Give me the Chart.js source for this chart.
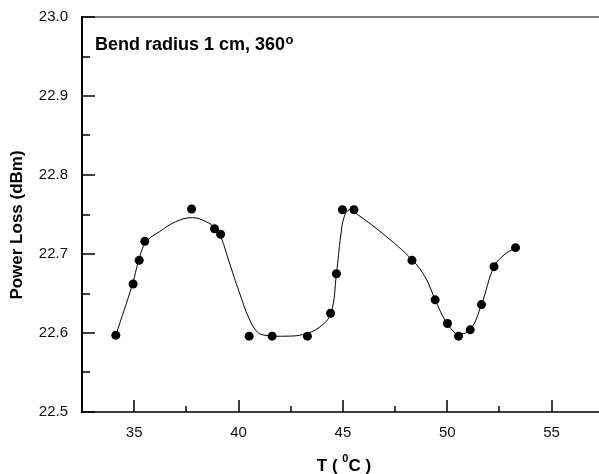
<!DOCTYPE html>
<html>
<head>
<meta charset="utf-8">
<script src="https://cdn.jsdelivr.net/npm/chart.js@4.4.1/dist/chart.umd.min.js"></script>
<style>
  html, body { margin: 0; padding: 0; background: #fff; }
  #wrap { width: 599px; height: 474px; }
</style>
</head>
<body>
<div id="wrap"><canvas id="chartCanvas" width="599" height="474"></canvas></div>
<script>
// Measured points (temperature in deg C, power loss in dBm)
const tempC = [34.12, 34.95, 35.24, 35.51, 37.75, 38.85, 39.14, 40.51, 41.61, 43.30, 44.41,
  44.69, 44.98, 45.53, 48.31, 49.42, 50.01, 50.54, 51.10, 51.64, 52.24, 53.27];
const lossDbm = [22.597, 22.662, 22.692, 22.716, 22.757, 22.732, 22.725, 22.596, 22.596, 22.596, 22.625,
  22.675, 22.756, 22.756, 22.692, 22.642, 22.612, 22.596, 22.604, 22.636, 22.684, 22.708];

// Smooth guide curve
const curveT = [34.12, 34.92, 35.21, 35.56, 36.20, 37.00, 37.79, 38.44, 38.91, 39.15, 39.55, 40.03,
  40.51, 40.91, 41.31, 42.27, 43.06, 43.86, 44.42, 44.69, 44.90, 45.06, 45.30, 45.54, 46.90,
  48.34, 48.98, 49.42, 49.94, 50.41, 50.54, 51.10, 51.64, 52.24, 52.73, 53.27];
const curveLoss = [22.597, 22.662, 22.691, 22.715, 22.728, 22.741, 22.746, 22.741, 22.732, 22.722, 22.690, 22.652,
  22.618, 22.601, 22.597, 22.596, 22.598, 22.607, 22.625, 22.675, 22.724, 22.747, 22.756, 22.753, 22.726,
  22.692, 22.669, 22.642, 22.614, 22.599, 22.598, 22.604, 22.636, 22.684, 22.699, 22.708];

// Axis ticks
const xTicks = [35, 40, 45, 50, 55];
const xMinorTicks = [37.5, 42.5, 47.5, 52.5];
const yTicks = [22.5, 22.6, 22.7, 22.8, 22.9, 23.0];
const yMinorTicks = [22.55, 22.65, 22.75, 22.85, 22.95];

const pointData = tempC.map((t, i) => ({ x: t, y: lossDbm[i] }));
const curveData = curveT.map((t, i) => ({ x: t, y: curveLoss[i] }));

const FONT = '"Liberation Sans", Arial, sans-serif';

// Draws the frame, the inward tick marks and the titles.
const framePlugin = {
  id: 'frame',
  afterDraw(chart) {
    const { ctx, chartArea: a, scales } = chart;
    const xs = scales.x, ys = scales.y;
    ctx.save();
    // top line (grey)
    ctx.strokeStyle = '#808080';
    ctx.lineWidth = 2;
    ctx.beginPath();
    ctx.moveTo(a.left, a.top);
    ctx.lineTo(chart.width, a.top);
    ctx.stroke();
    ctx.strokeStyle = '#000';
    // left axis
    ctx.lineWidth = 2;
    ctx.beginPath();
    ctx.moveTo(a.left, a.top - 1);
    ctx.lineTo(a.left, a.bottom + 1);
    ctx.stroke();
    // bottom axis
    ctx.lineWidth = 1.5;
    ctx.beginPath();
    ctx.moveTo(a.left, a.bottom);
    ctx.lineTo(chart.width, a.bottom);
    ctx.stroke();
    // y ticks
    ctx.lineWidth = 1.5;
    yTicks.forEach((v) => {
      const y = Math.round(ys.getPixelForValue(v));
      ctx.beginPath(); ctx.moveTo(a.left, y); ctx.lineTo(a.left + 13, y); ctx.stroke();
    });
    yMinorTicks.forEach((v) => {
      const y = Math.round(ys.getPixelForValue(v));
      ctx.beginPath(); ctx.moveTo(a.left, y); ctx.lineTo(a.left + 8, y); ctx.stroke();
    });
    // x ticks
    xTicks.forEach((v) => {
      const x = Math.round(xs.getPixelForValue(v));
      ctx.beginPath(); ctx.moveTo(x, a.bottom); ctx.lineTo(x, a.bottom - 12); ctx.stroke();
    });
    xMinorTicks.forEach((v) => {
      const x = Math.round(xs.getPixelForValue(v));
      ctx.beginPath(); ctx.moveTo(x, a.bottom); ctx.lineTo(x, a.bottom - 6); ctx.stroke();
    });

    ctx.fillStyle = '#000';
    ctx.textBaseline = 'alphabetic';
    // annotation with superscript degree
    ctx.font = 'bold 18px ' + FONT;
    ctx.textAlign = 'left';
    const note = 'Bend radius 1 cm, 360';
    ctx.fillText(note, 95, 50);
    const nw = ctx.measureText(note).width;
    ctx.font = 'bold 13px ' + FONT;
    ctx.fillText('o', 95 + nw + 0.5, 44);

    // x title: T ( ⁰C )
    ctx.font = 'bold 17px ' + FONT;
    const p1 = 'T ( ', p3 = 'C )';
    const w1 = ctx.measureText(p1).width;
    const w3 = ctx.measureText(p3).width;
    ctx.font = 'bold 11px ' + FONT;
    const w2 = ctx.measureText('0').width;
    const total = w1 + w2 + w3;
    let xStart = 344 - total / 2;
    ctx.font = 'bold 17px ' + FONT;
    ctx.fillText(p1, xStart, 471);
    ctx.font = 'bold 11px ' + FONT;
    ctx.fillText('0', xStart + w1, 462);
    ctx.font = 'bold 17px ' + FONT;
    ctx.fillText(p3, xStart + w1 + w2, 471);

    // y title
    ctx.translate(17, 225);
    ctx.rotate(-Math.PI / 2);
    ctx.textAlign = 'center';
    ctx.textBaseline = 'middle';
    ctx.font = 'bold 17px ' + FONT;
    ctx.fillText('Power Loss (dBm)', 0, 0);
    ctx.restore();
  }
};

new Chart(document.getElementById('chartCanvas').getContext('2d'), {
  type: 'scatter',
  data: {
    datasets: [
      {
        label: 'fit',
        data: curveData,
        showLine: true,
        borderColor: '#000',
        borderWidth: 1,
        pointRadius: 0,
        tension: 0.4,
        fill: false
      },
      {
        label: 'measured',
        data: pointData,
        showLine: false,
        pointRadius: 4.5,
        pointBackgroundColor: '#000',
        pointBorderColor: '#000',
        pointBorderWidth: 0
      }
    ]
  },
  options: {
    responsive: false,
    animation: false,
    devicePixelRatio: 1,
    layout: { autoPadding: false, padding: { top: 17, right: 0, left: 0, bottom: 0 } },
    plugins: { legend: { display: false }, tooltip: { enabled: false } },
    scales: {
      x: {
        type: 'linear',
        min: 32.5,
        max: 57.27,
        grid: { display: false, drawTicks: false },
        border: { display: false },
        afterBuildTicks: (scale) => { scale.ticks = xTicks.map((v) => ({ value: v })); },
        afterFit: (scale) => {
          scale.height = 62;
          scale.paddingLeft = 0;
          scale.paddingRight = 0;
        },
        ticks: {
          padding: 12,
          color: '#111',
          font: { family: FONT, size: 15 },
          maxRotation: 0,
          callback: (v) => String(v)
        }
      },
      y: {
        type: 'linear',
        min: 22.5,
        max: 23.0,
        grid: { display: false, drawTicks: false },
        border: { display: false },
        afterBuildTicks: (scale) => { scale.ticks = yTicks.map((v) => ({ value: v })); },
        afterFit: (scale) => {
          scale.width = 82;
          scale.paddingTop = 0;
          scale.paddingBottom = 0;
        },
        ticks: {
          padding: 14,
          color: '#111',
          font: { family: FONT, size: 15 },
          callback: (v) => v.toFixed(1)
        }
      }
    }
  },
  plugins: [framePlugin]
});
</script>
</body>
</html>
